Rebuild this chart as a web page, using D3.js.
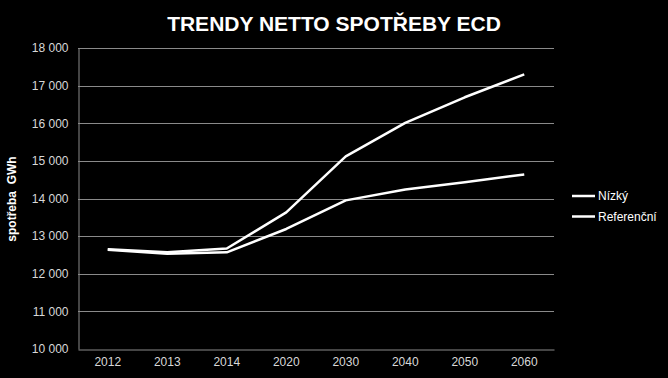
<!DOCTYPE html>
<html><head><meta charset="utf-8">
<script src="https://cdn.jsdelivr.net/npm/d3@7"></script>
<style>html,body{margin:0;padding:0;background:#000;}svg{display:block;}</style>
</head><body>
<script>
const categories = ["2012","2013","2014","2020","2030","2040","2050","2060"];
const nizky = [12650,12570,12670,13630,15120,16010,16690,17300];
const referencni = [12640,12530,12570,13190,13950,14240,14430,14640];
const seriesNames = ["Nízký","Referenční"];
const yTicks = [10000,11000,12000,13000,14000,15000,16000,17000,18000];
const title = "TRENDY NETTO SPOTŘEBY ECD";
const yLabel = "spotřeba  GWh";

const W = 668, H = 378;
const m = {left:78, right:668-554, top:48, bottom:378-349};
const svg = d3.select("body").append("svg").attr("width",W).attr("height",H)
  .style("background","#000").style("font-family","'Liberation Sans', Arial, sans-serif");

const x = d3.scaleBand().domain(categories).range([m.left, W-m.right]);
const y = d3.scaleLinear().domain([10000,18000]).range([H-m.bottom, m.top]);
const fmt = v => d3.format(",")(v).replace(/,/g," ");

// gridlines
svg.append("g").selectAll("line").data(yTicks.slice(1)).join("line")
  .attr("x1",m.left).attr("x2",W-m.right)
  .attr("y1",d=>Math.round(y(d))+0.5).attr("y2",d=>Math.round(y(d))+0.5)
  .attr("stroke","#8a8a8a").attr("stroke-width",1);

// y axis
const ya = svg.append("g").attr("transform",`translate(${m.left+0.5},0)`)
  .call(d3.axisLeft(y).tickValues(yTicks).tickFormat(fmt).tickSize(0).tickPadding(10));
ya.select(".domain").attr("stroke","#8a8a8a");
ya.selectAll("text").attr("fill","#d8d8d8").style("font-size","12px").style("font-family","'Liberation Sans', Arial, sans-serif");

// x axis
const xa = svg.append("g").attr("transform",`translate(0,${Math.round(H-m.bottom)+0.5})`)
  .call(d3.axisBottom(x).tickSize(0).tickPadding(8));
xa.select(".domain").attr("stroke","#8a8a8a");
xa.selectAll("text").attr("fill","#d8d8d8").style("font-size","12px").style("font-family","'Liberation Sans', Arial, sans-serif");

// lines
const line = d3.line().x((d,i)=>x(categories[i])+x.bandwidth()/2).y(d=>y(d));
[nizky, referencni].forEach(s=>{
  svg.append("path").datum(s).attr("d",line).attr("fill","none")
    .attr("stroke","#fff").attr("stroke-width",2.5).attr("stroke-linejoin","round");
});

// title
svg.append("text").attr("x",334).attr("y",31).attr("text-anchor","middle")
  .attr("fill","#fff").style("font-size","21px").style("font-weight","bold").text(title);

// y label
svg.append("text").attr("transform","translate(16,199) rotate(-90)").attr("text-anchor","middle")
  .attr("fill","#fff").style("font-size","12px").style("font-weight","bold")
  .attr("xml:space","preserve").style("white-space","pre").text(yLabel);

// legend
const lg = svg.append("g");
seriesNames.forEach((n,i)=>{
  const ly = 196 + i*20.5;
  lg.append("line").attr("x1",572).attr("x2",595).attr("y1",ly).attr("y2",ly)
    .attr("stroke","#fff").attr("stroke-width",2.5);
  lg.append("text").attr("x",598).attr("y",ly+4).attr("fill","#fff")
    .style("font-size","12px").text(n);
});
</script>
</body></html>
